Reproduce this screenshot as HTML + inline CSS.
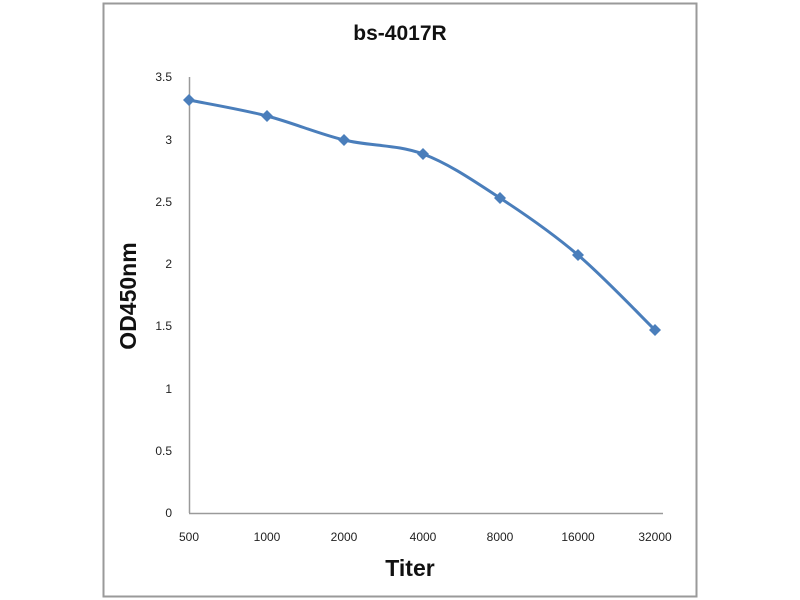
<!DOCTYPE html>
<html><head><meta charset="utf-8"><style>
html,body{margin:0;padding:0;background:#fff;width:800px;height:600px;overflow:hidden}
</style></head><body>
<svg width="800" height="600" xmlns="http://www.w3.org/2000/svg" font-family="Liberation Sans, sans-serif">
<rect x="103.5" y="3.5" width="593" height="593" fill="#fff" stroke="#9a9a9a" stroke-width="2"/>
<text x="400" y="40" text-anchor="middle" font-size="21" font-weight="bold" fill="#111">bs-4017R</text>
<line x1="189.5" y1="77" x2="189.5" y2="513" stroke="#9a9a9a" stroke-width="1.5"/>
<line x1="189" y1="513.5" x2="663" y2="513.5" stroke="#9a9a9a" stroke-width="1.5"/>
<g font-size="12" fill="#222" text-anchor="end">
<text x="172" y="81">3.5</text>
<text x="172" y="144">3</text>
<text x="172" y="206">2.5</text>
<text x="172" y="268">2</text>
<text x="172" y="330">1.5</text>
<text x="172" y="393">1</text>
<text x="172" y="455">0.5</text>
<text x="172" y="517">0</text>
</g>
<g font-size="12" fill="#222" text-anchor="middle">
<text x="189" y="541">500</text>
<text x="267" y="541">1000</text>
<text x="344" y="541">2000</text>
<text x="423" y="541">4000</text>
<text x="500" y="541">8000</text>
<text x="578" y="541">16000</text>
<text x="655" y="541">32000</text>
</g>
<text x="410" y="576" text-anchor="middle" font-size="23" font-weight="bold" fill="#111">Titer</text>
<text transform="translate(136,296) rotate(-90)" text-anchor="middle" font-size="23" font-weight="bold" fill="#111">OD450nm</text>
<path d="M189,100 C202,102.7 241.2,109.3 267,116 C292.8,122.7 318,133.7 344,140 C370,146.3 397,144.3 423,154 C449,163.7 474.2,181.2 500,198 C525.8,214.8 552.2,233 578,255 C603.8,277 642.2,317.5 655,330" fill="none" stroke="#4a7ebb" stroke-width="3"/>
<g fill="#4a7ebb">
<path d="M189,94 l6,6 l-6,6 l-6,-6z"/>
<path d="M267,110 l6,6 l-6,6 l-6,-6z"/>
<path d="M344,134 l6,6 l-6,6 l-6,-6z"/>
<path d="M423,148 l6,6 l-6,6 l-6,-6z"/>
<path d="M500,192 l6,6 l-6,6 l-6,-6z"/>
<path d="M578,249 l6,6 l-6,6 l-6,-6z"/>
<path d="M655,324 l6,6 l-6,6 l-6,-6z"/>
</g>
</svg>
</body></html>
